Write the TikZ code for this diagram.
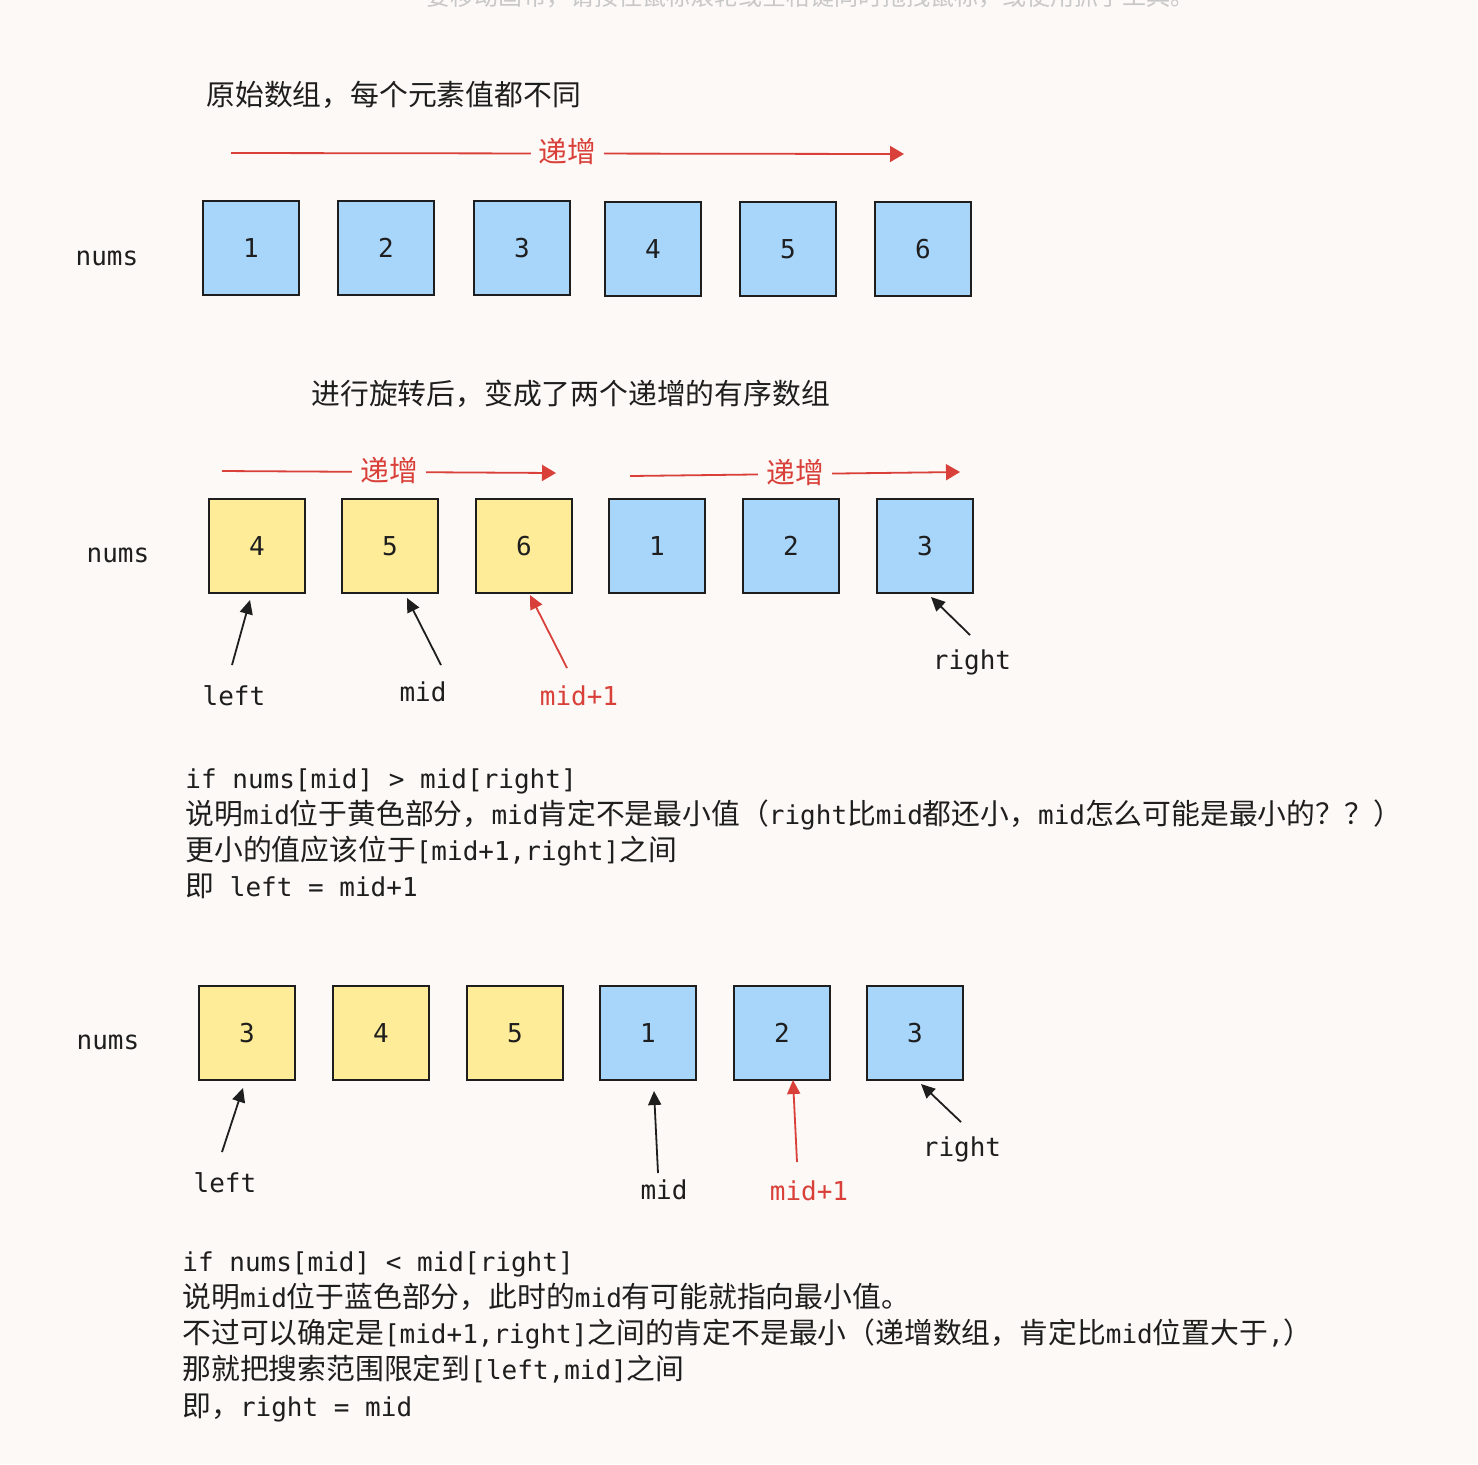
\documentclass[tikz,border=0pt]{standalone}
\usepackage{fontspec}
\usetikzlibrary{arrows.meta}
\newfontfamily\monof{DejaVu Sans Mono}
\newfontfamily\cjkf{Noto Sans CJK SC}
\newcommand\monoN{\monof\fontsize{13pt}{18pt}\selectfont}
\newcommand\zhs[1]{{\cjkf\fontsize{14.4pt}{18pt}\selectfont #1}}
\definecolor{bgc}{HTML}{FCF9F6}
\definecolor{ink}{HTML}{1E1E1E}
\definecolor{redc}{HTML}{D9403A}
\definecolor{bluef}{HTML}{A8D5FA}
\definecolor{yelf}{HTML}{FFEC99}
\definecolor{hintc}{HTML}{C8C8C8}
\tikzset{
  bx/.style={draw=ink, line width=1pt, minimum width=48pt, minimum height=47pt, inner sep=0pt, font=\monoN, text=ink},
  bl/.style={bx, fill=bluef},
  yl/.style={bx, fill=yelf},
  lbl/.style={font=\monoN, text=ink, inner sep=0pt},
  rlbl/.style={font=\monoN, text=redc, inner sep=0pt},
  txt/.style={font=\monoN, text=ink, inner sep=0pt, anchor=west, text height=10pt, text depth=3pt, yshift=-1.5pt},
  ttl/.style={font=\cjkf\fontsize{14.4pt}{18pt}\selectfont, text=ink, inner sep=0pt, anchor=west},
  incarrow/.style={draw=redc, line width=0.9pt, -{Triangle[length=7pt,width=8pt]}},
  inc/.style={font=\cjkf\fontsize{14.4pt}{18pt}\selectfont, text=redc, fill=bgc, inner xsep=4pt, inner ysep=1pt, yshift=1pt},
  ptr/.style={draw=ink, line width=0.9pt, -{Triangle[length=7pt,width=6.5pt]}},
  rptr/.style={draw=redc, line width=0.9pt, -{Triangle[length=7pt,width=6.5pt]}},
}
\begin{document}
\begin{tikzpicture}[x=0.5pt, y=-0.5pt]
\useasboundingbox (0,0) rectangle (1478,1464);
\fill[bgc] (0,0) rectangle (1478,1464);

% faint hint text at the top (cut off in the reference too)
\node[font=\cjkf\fontsize{12pt}{14pt}\selectfont, text=hintc, inner sep=0pt] (hint) at (810,-3) {要移动画布，请按住鼠标滚轮或空格键同时拖拽鼠标，或使用抓手工具。};

% ---------- section 1 ----------
\node[ttl] (title1) at (206,95) {原始数组，每个元素值都不同};
\coordinate (i1s) at (231,153);
\coordinate (i1e) at (904,154);
\draw[incarrow] (i1s) -- node[inc] (inc1) {递增} (i1e);

\node[lbl] (nums1) at (107,258) {nums};
\node[bl] (a1) at (251,248) {1};
\node[bl] (a2) at (386,248) {2};
\node[bl] (a3) at (522,248) {3};
\node[bl] (a4) at (653,249) {4};
\node[bl] (a5) at (788,249) {5};
\node[bl] (a6) at (923,249) {6};

% ---------- section 2 ----------
\node[ttl] (title2) at (311,394) {进行旋转后，变成了两个递增的有序数组};
\coordinate (i2s) at (222,471);
\coordinate (i2e) at (556,473);
\draw[incarrow] (i2s) -- node[inc] (inc2) {递增} (i2e);
\coordinate (i3s) at (630,476);
\coordinate (i3e) at (960,472);
\draw[incarrow] (i3s) -- node[inc] (inc3) {递增} (i3e);

\node[lbl] (nums2) at (118,555) {nums};
\node[yl] (b1) at (257,546) {4};
\node[yl] (b2) at (390,546) {5};
\node[yl] (b3) at (524,546) {6};
\node[bl] (b4) at (657,546) {1};
\node[bl] (b5) at (791,546) {2};
\node[bl] (b6) at (925,546) {3};

\node[lbl] (left2) at (234,696) {left};
\node[lbl] (mid2) at (423,692) {mid};
\node[rlbl] (midp2) at (579,696) {mid+1};
\node[lbl] (right2) at (972,662) {right};
\coordinate (p2l) at (232,665); \coordinate (q2l) at (250,600);
\coordinate (p2m) at (441,665); \coordinate (q2m) at (407,598);
\coordinate (p2p) at (567,668); \coordinate (q2p) at (530,595);
\coordinate (p2r) at (970,635); \coordinate (q2r) at (931,597);
\draw[ptr] (p2l) -- (q2l);
\draw[ptr] (p2m) -- (q2m);
\draw[rptr] (p2p) -- (q2p);
\draw[ptr] (p2r) -- (q2r);

\node[txt] (t1a) at (185,778) {if nums[mid] > mid[right]};
\node[txt] (t1b) at (185,814) {\zhs{说明}mid\zhs{位于黄色部分，}mid\zhs{肯定不是最小值（}right\zhs{比}mid\zhs{都还小，}mid\zhs{怎么可能是最小的？？）}};
\node[txt] (t1c) at (185,850) {\zhs{更小的值应该位于}[mid+1,right]\zhs{之间}};
\node[txt] (t1d) at (185,886) {\zhs{即} left = mid+1};

% ---------- section 3 ----------
\node[lbl] (nums3) at (108,1042) {nums};
\node[yl] (c1) at (247,1033) {3};
\node[yl] (c2) at (381,1033) {4};
\node[yl] (c3) at (515,1033) {5};
\node[bl] (c4) at (648,1033) {1};
\node[bl] (c5) at (782,1033) {2};
\node[bl] (c6) at (915,1033) {3};

\node[lbl] (left3) at (225,1183) {left};
\node[lbl] (mid3) at (664,1190) {mid};
\node[rlbl] (midp3) at (809,1191) {mid+1};
\node[lbl] (right3) at (962,1149) {right};
\coordinate (p3l) at (222,1152); \coordinate (q3l) at (243,1088);
\coordinate (p3m) at (658,1173); \coordinate (q3m) at (654,1091);
\coordinate (p3p) at (797,1162); \coordinate (q3p) at (793,1080);
\coordinate (p3r) at (961,1122); \coordinate (q3r) at (921,1084);
\draw[ptr] (p3l) -- (q3l);
\draw[ptr] (p3m) -- (q3m);
\draw[rptr] (p3p) -- (q3p);
\draw[ptr] (p3r) -- (q3r);

\node[txt] (t2a) at (182,1261) {if nums[mid] < mid[right]};
\node[txt] (t2b) at (182,1297) {\zhs{说明}mid\zhs{位于蓝色部分，此时的}mid\zhs{有可能就指向最小值。}};
\node[txt] (t2c) at (182,1333) {\zhs{不过可以确定是}[mid+1,right]\zhs{之间的肯定不是最小（递增数组，肯定比}mid\zhs{位置大于},\zhs{）}};
\node[txt] (t2d) at (182,1369) {\zhs{那就把搜索范围限定到}[left,mid]\zhs{之间}};
\node[txt] (t2e) at (182,1406) {\zhs{即，}right = mid};
\end{tikzpicture}
\end{document}
